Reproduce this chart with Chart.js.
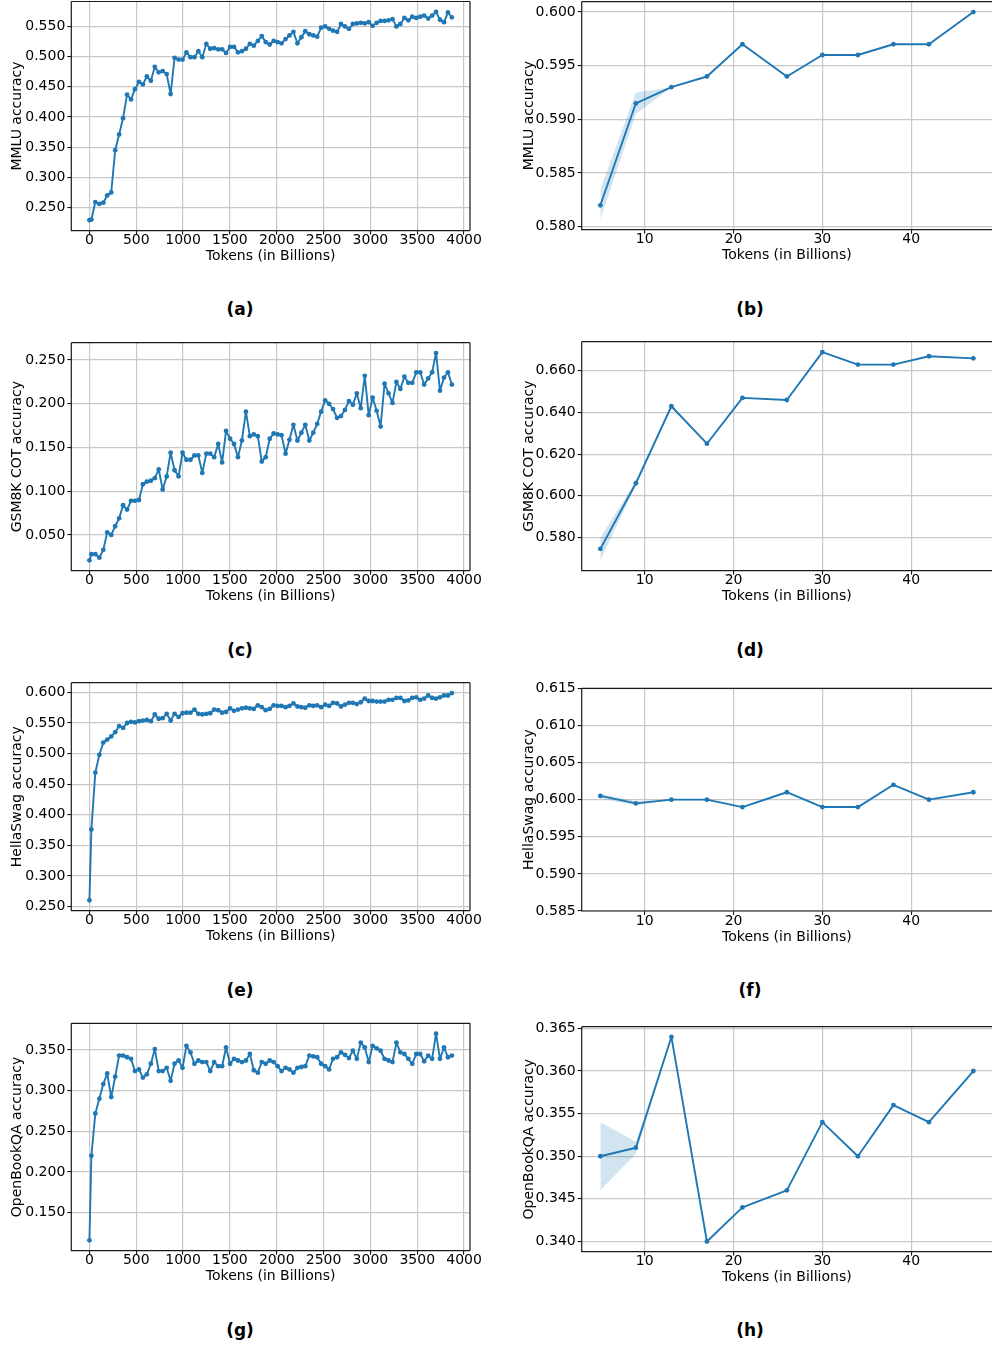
<!DOCTYPE html>
<html>
<head>
<meta charset="utf-8">
<script src="https://cdn.jsdelivr.net/npm/chart.js@4.4.1/dist/chart.umd.min.js"></script>
<style>
  body { margin: 0; background: #fff; width: 992px; height: 1348px; position: relative; overflow: hidden; font-family: 'DejaVu Sans', sans-serif; }
  canvas { position: absolute; }
  .cap { position: absolute; font-weight: bold; font-size: 17px; transform: translate(-50%, -50%); white-space: nowrap; color: #000; }
</style>
</head>
<body>
<div class="cap" style="left:240px;top:309px">(a)</div>
<div class="cap" style="left:750px;top:309px">(b)</div>
<div class="cap" style="left:240px;top:650px">(c)</div>
<div class="cap" style="left:750px;top:650px">(d)</div>
<div class="cap" style="left:240px;top:990px">(e)</div>
<div class="cap" style="left:750px;top:990px">(f)</div>
<div class="cap" style="left:240px;top:1330px">(g)</div>
<div class="cap" style="left:750px;top:1330px">(h)</div>
<script>
// Long pretraining runs (left column): token checkpoints in billions
const tokensLong = [0, 21, 63, 106, 148, 190, 233, 275, 317, 359, 402, 444, 486, 529, 571, 613, 656, 698, 740, 782,
  825, 867, 909, 952, 994, 1036, 1079, 1121, 1163, 1205, 1248, 1290, 1332, 1375, 1417, 1459, 1502, 1544, 1586, 1628,
  1671, 1713, 1755, 1798, 1840, 1882, 1925, 1967, 2009, 2051, 2094, 2136, 2178, 2221, 2263, 2305, 2348, 2390, 2432, 2474,
  2517, 2559, 2601, 2644, 2686, 2728, 2771, 2813, 2855, 2897, 2940, 2982, 3024, 3067, 3109, 3151, 3194, 3236, 3278, 3320,
  3363, 3405, 3447, 3490, 3532, 3574, 3617, 3659, 3701, 3743, 3786, 3828, 3870]

const mmluLong = [0.229, 0.230, 0.259, 0.256, 0.258, 0.270, 0.275, 0.345, 0.371, 0.398,
  0.437, 0.429, 0.446, 0.458, 0.454, 0.467, 0.460, 0.483, 0.474, 0.476,
  0.471, 0.438, 0.498, 0.495, 0.495, 0.507, 0.499, 0.499, 0.509, 0.499,
  0.521, 0.513, 0.514, 0.512, 0.512, 0.506, 0.516, 0.516, 0.507, 0.509,
  0.513, 0.521, 0.518, 0.526, 0.534, 0.524, 0.520, 0.526, 0.524, 0.522,
  0.529, 0.535, 0.541, 0.522, 0.532, 0.542, 0.537, 0.535, 0.533, 0.548,
  0.550, 0.546, 0.543, 0.541, 0.554, 0.550, 0.546, 0.554, 0.555, 0.556,
  0.555, 0.557, 0.551, 0.556, 0.559, 0.559, 0.560, 0.562, 0.550, 0.554,
  0.564, 0.560, 0.566, 0.564, 0.566, 0.568, 0.563, 0.568, 0.574, 0.561,
  0.557, 0.573, 0.565]

const gsmLong = [0.021, 0.028, 0.028, 0.024, 0.033, 0.053, 0.050, 0.060, 0.069, 0.084,
  0.079, 0.089, 0.089, 0.090, 0.108, 0.111, 0.112, 0.115, 0.125, 0.102,
  0.117, 0.144, 0.124, 0.117, 0.144, 0.136, 0.136, 0.141, 0.141, 0.121,
  0.143, 0.143, 0.139, 0.154, 0.133, 0.169, 0.160, 0.154, 0.139, 0.158,
  0.191, 0.163, 0.165, 0.163, 0.134, 0.139, 0.160, 0.166, 0.165, 0.164,
  0.143, 0.159, 0.176, 0.158, 0.167, 0.176, 0.158, 0.167, 0.177, 0.191,
  0.204, 0.200, 0.194, 0.184, 0.186, 0.193, 0.203, 0.199, 0.212, 0.195,
  0.232, 0.187, 0.207, 0.192, 0.174, 0.223, 0.212, 0.201, 0.225, 0.217,
  0.231, 0.224, 0.224, 0.236, 0.236, 0.222, 0.229, 0.236, 0.258, 0.215,
  0.230, 0.236, 0.222]

const hellaLong = [0.260, 0.376, 0.469, 0.498, 0.518, 0.523, 0.528, 0.535, 0.545, 0.542,
  0.550, 0.552, 0.551, 0.553, 0.554, 0.555, 0.553, 0.564, 0.557, 0.558,
  0.565, 0.554, 0.565, 0.560, 0.566, 0.567, 0.567, 0.572, 0.565, 0.564,
  0.565, 0.566, 0.572, 0.571, 0.567, 0.568, 0.574, 0.570, 0.572, 0.574,
  0.575, 0.574, 0.573, 0.579, 0.576, 0.571, 0.573, 0.579, 0.578, 0.578,
  0.576, 0.578, 0.582, 0.577, 0.576, 0.575, 0.579, 0.578, 0.579, 0.576,
  0.580, 0.578, 0.583, 0.582, 0.577, 0.580, 0.583, 0.583, 0.581, 0.584,
  0.590, 0.586, 0.586, 0.585, 0.585, 0.585, 0.588, 0.588, 0.591, 0.591,
  0.586, 0.587, 0.591, 0.592, 0.588, 0.590, 0.595, 0.591, 0.590, 0.592,
  0.595, 0.595, 0.599]

const obqaLong = [0.116, 0.220, 0.272, 0.290, 0.308, 0.321, 0.292, 0.317, 0.343, 0.343,
  0.341, 0.339, 0.324, 0.326, 0.316, 0.320, 0.333, 0.351, 0.324, 0.324,
  0.328, 0.312, 0.333, 0.337, 0.328, 0.355, 0.347, 0.333, 0.337, 0.335,
  0.335, 0.324, 0.335, 0.330, 0.330, 0.353, 0.333, 0.339, 0.337, 0.335,
  0.337, 0.345, 0.325, 0.322, 0.335, 0.333, 0.337, 0.335, 0.330, 0.324,
  0.328, 0.326, 0.322, 0.328, 0.329, 0.330, 0.343, 0.342, 0.341, 0.333,
  0.330, 0.326, 0.339, 0.341, 0.347, 0.344, 0.340, 0.349, 0.339, 0.359,
  0.353, 0.335, 0.355, 0.352, 0.349, 0.339, 0.337, 0.335, 0.359, 0.347,
  0.345, 0.339, 0.333, 0.345, 0.345, 0.336, 0.343, 0.339, 0.370, 0.339,
  0.353, 0.341, 0.343]

// Short runs (right column), mean with min/max band
const tokensShort = [5, 9, 13, 17, 21, 26, 30, 34, 38, 42, 47]

const mmluShort = [0.582, 0.5915, 0.593, 0.594, 0.597, 0.594, 0.596, 0.596, 0.597, 0.597, 0.600]
const mmluLow   = [0.5807, 0.5905, 0.593, 0.594, 0.597, 0.594, 0.596, 0.596, 0.597, 0.597, 0.600]
const mmluHigh  = [0.5835, 0.5925, 0.593, 0.594, 0.597, 0.594, 0.596, 0.596, 0.597, 0.597, 0.600]

const gsmShort = [0.5745, 0.606, 0.643, 0.625, 0.647, 0.646, 0.669, 0.663, 0.663, 0.667, 0.666]
const gsmLow   = [0.569, 0.605, 0.643, 0.625, 0.647, 0.646, 0.669, 0.663, 0.663, 0.667, 0.666]
const gsmHigh  = [0.580, 0.607, 0.643, 0.625, 0.647, 0.646, 0.669, 0.663, 0.663, 0.667, 0.666]

const hellaShort = [0.6005, 0.5995, 0.600, 0.600, 0.599, 0.601, 0.599, 0.599, 0.602, 0.600, 0.601]
const hellaLow   = [0.6002, 0.5992, 0.600, 0.600, 0.599, 0.601, 0.599, 0.599, 0.602, 0.600, 0.601]
const hellaHigh  = [0.6008, 0.5998, 0.600, 0.600, 0.599, 0.601, 0.599, 0.599, 0.602, 0.600, 0.601]

const obqaShort = [0.350, 0.351, 0.364, 0.340, 0.344, 0.346, 0.354, 0.350, 0.356, 0.354, 0.360]
const obqaLow   = [0.346, 0.3503, 0.364, 0.340, 0.344, 0.346, 0.354, 0.350, 0.356, 0.354, 0.360]
const obqaHigh  = [0.354, 0.3517, 0.364, 0.340, 0.344, 0.346, 0.354, 0.350, 0.356, 0.354, 0.360]

// Tick labels
const xTicksLong = [0, 500, 1000, 1500, 2000, 2500, 3000, 3500, 4000]
const xTicksShort = [10, 20, 30, 40]
const yTicksMmluLong = [0.25, 0.30, 0.35, 0.40, 0.45, 0.50, 0.55]
const yTicksGsmLong = [0.05, 0.10, 0.15, 0.20, 0.25]
const yTicksHellaLong = [0.25, 0.30, 0.35, 0.40, 0.45, 0.50, 0.55, 0.60]
const yTicksObqaLong = [0.15, 0.20, 0.25, 0.30, 0.35]
const yTicksMmluShort = [0.580, 0.585, 0.590, 0.595, 0.600]
const yTicksGsmShort = [0.58, 0.60, 0.62, 0.64, 0.66]
const yTicksHellaShort = [0.585, 0.590, 0.595, 0.600, 0.605, 0.610, 0.615]
const yTicksObqaShort = [0.340, 0.345, 0.350, 0.355, 0.360, 0.365]

const blue = '#1f77b4'
const bandBlue = 'rgba(31,119,180,0.2)'
const gridGray = 'rgb(200,200,200)'

Chart.defaults.font.family = "'DejaVu Sans', sans-serif"
Chart.defaults.font.size = 14
Chart.defaults.color = '#000'

// Draws the matplotlib style box around the plot area
const framePlugin = {
    id: 'frame',
    afterDatasetsDraw(chart, args, opts) {
        const { ctx, chartArea: a } = chart
        ctx.save()
        ctx.strokeStyle = '#1a1a1a'
        ctx.lineWidth = 1.2
        ctx.beginPath()
        ctx.moveTo(a.left, a.top)
        ctx.lineTo(a.left, a.bottom)
        ctx.lineTo(a.right, a.bottom)
        ctx.moveTo(a.left, a.top)
        ctx.lineTo(a.right, a.top)
        if (opts.right) {
            ctx.moveTo(a.right, a.top)
            ctx.lineTo(a.right, a.bottom)
        }
        ctx.stroke()
        ctx.restore()
    }
}

// margin of 5% like matplotlib autoscale
function padRange(lo, hi) {
    const m = (hi - lo) * 0.05
    return [lo - m, hi + m]
}

function makePanel(p) {
    const isLeft = p.side === 'left'
    const canvasLeft = isLeft ? 0 : 512
    const canvasWidth = isLeft ? 490 : 480
    const plotLeft = isLeft ? 71.3 : 581.7
    const plotRight = isLeft ? 470 : 992
    const T = Math.floor(p.plotTop) - 14
    const H = Math.ceil(p.plotBottom) + 37 - T
    const axisH = H - (p.plotBottom - T)
    const titlePadBottom = (T + H) - (p.plotBottom + 26) - 8.4

    const canvas = document.createElement('canvas')
    canvas.width = canvasWidth
    canvas.height = H
    canvas.style.left = canvasLeft + 'px'
    canvas.style.top = T + 'px'
    canvas.style.width = canvasWidth + 'px'
    canvas.style.height = H + 'px'
    document.body.appendChild(canvas)

    const datasets = [{
        data: p.x.map((v, i) => ({ x: v, y: p.y[i] })),
        borderColor: blue,
        backgroundColor: blue,
        borderWidth: 1.9,
        pointRadius: 2.4,
        pointBorderWidth: 0,
        pointBackgroundColor: blue,
        borderJoinStyle: 'round',
        fill: false,
        tension: 0
    }]
    let lo = Math.min(...p.y), hi = Math.max(...p.y)
    if (p.low) {
        datasets.push({
            data: p.x.map((v, i) => ({ x: v, y: p.low[i] })),
            borderWidth: 0, pointRadius: 0, fill: false, borderColor: 'rgba(0,0,0,0)'
        })
        datasets.push({
            data: p.x.map((v, i) => ({ x: v, y: p.high[i] })),
            borderWidth: 0, pointRadius: 0, fill: '-1', borderColor: 'rgba(0,0,0,0)',
            backgroundColor: bandBlue
        })
        lo = Math.min(lo, ...p.low)
        hi = Math.max(hi, ...p.high)
    }
    const xr = padRange(Math.min(...p.x), Math.max(...p.x))
    const yr = p.yRange || padRange(lo, hi)

    return new Chart(canvas, {
        type: 'line',
        data: { datasets },
        plugins: [framePlugin],
        options: {
            responsive: false,
            animation: false,
            devicePixelRatio: 1,
            events: [],
            layout: {
                autoPadding: false,
                padding: { top: p.plotTop - T, left: 0, right: canvasLeft + canvasWidth - plotRight, bottom: 0 }
            },
            plugins: {
                legend: { display: false },
                tooltip: { enabled: false },
                frame: { right: isLeft }
            },
            scales: {
                x: {
                    type: 'linear',
                    min: xr[0],
                    max: xr[1],
                    afterBuildTicks: s => { s.ticks = p.xTicks.map(v => ({ value: v })) },
                    afterFit: s => { s.height = axisH },
                    border: { display: false },
                    grid: { color: gridGray, lineWidth: 1.2, tickColor: '#000', tickLength: 4, tickWidth: 1 },
                    ticks: { autoSkip: false, maxRotation: 0, padding: -1, font: { lineHeight: 1 }, callback: v => String(v) },
                    title: { display: true, text: 'Tokens (in Billions)', padding: { top: 0, bottom: titlePadBottom } }
                },
                y: {
                    min: yr[0],
                    max: yr[1],
                    afterBuildTicks: s => { s.ticks = p.yTicks.map(v => ({ value: v })) },
                    afterFit: s => { s.width = plotLeft - canvasLeft },
                    border: { display: false },
                    grid: { color: gridGray, lineWidth: 1.2, tickColor: '#000', tickLength: 4, tickWidth: 1 },
                    ticks: { padding: 2, callback: v => v.toFixed(3) },
                    title: { display: true, text: p.yTitle, padding: { top: 9, bottom: 0 } }
                }
            }
        }
    })
}

makePanel({ side: 'left', plotTop: 1.5, plotBottom: 230.6, x: tokensLong, y: mmluLong, xTicks: xTicksLong, yTicks: yTicksMmluLong, yTitle: 'MMLU accuracy' })
makePanel({ side: 'right', plotTop: 1.7, plotBottom: 229.6, x: tokensShort, y: mmluShort, low: mmluLow, high: mmluHigh, xTicks: xTicksShort, yTicks: yTicksMmluShort, yTitle: 'MMLU accuracy' })
makePanel({ side: 'left', plotTop: 342.7, plotBottom: 570.7, x: tokensLong, y: gsmLong, xTicks: xTicksLong, yTicks: yTicksGsmLong, yTitle: 'GSM8K COT accuracy' })
makePanel({ side: 'right', plotTop: 341.7, plotBottom: 570.7, x: tokensShort, y: gsmShort, low: gsmLow, high: gsmHigh, xTicks: xTicksShort, yTicks: yTicksGsmShort, yTitle: 'GSM8K COT accuracy' })
makePanel({ side: 'left', plotTop: 682.7, plotBottom: 910.7, x: tokensLong, y: hellaLong, xTicks: xTicksLong, yTicks: yTicksHellaLong, yTitle: 'HellaSwag accuracy' })
makePanel({ side: 'right', plotTop: 688.3, plotBottom: 911, x: tokensShort, y: hellaShort, low: hellaLow, high: hellaHigh, xTicks: xTicksShort, yTicks: yTicksHellaShort, yTitle: 'HellaSwag accuracy', yRange: [0.585, 0.615] })
makePanel({ side: 'left', plotTop: 1023.3, plotBottom: 1250.7, x: tokensLong, y: obqaLong, xTicks: xTicksLong, yTicks: yTicksObqaLong, yTitle: 'OpenBookQA accuracy' })
makePanel({ side: 'right', plotTop: 1026.7, plotBottom: 1251.7, x: tokensShort, y: obqaShort, low: obqaLow, high: obqaHigh, xTicks: xTicksShort, yTicks: yTicksObqaShort, yTitle: 'OpenBookQA accuracy' })
</script>
</body>
</html>
